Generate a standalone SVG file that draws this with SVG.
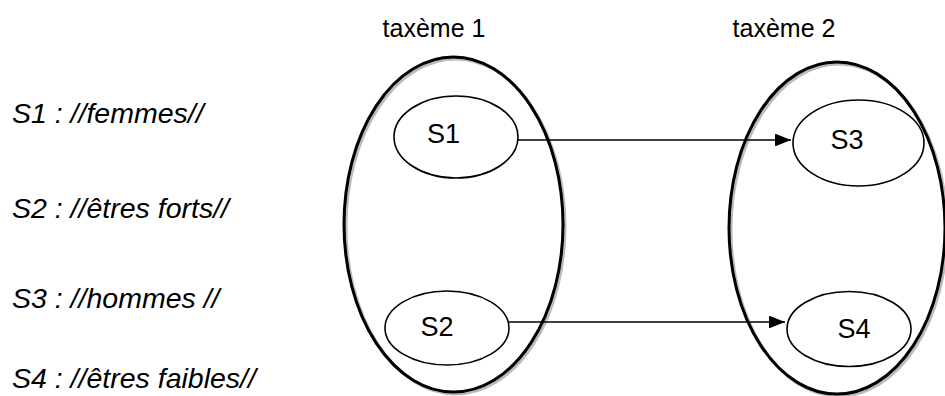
<svg xmlns="http://www.w3.org/2000/svg" width="945" height="396" viewBox="0 0 945 396">
<style>
.big{fill:none;stroke:#000;stroke-width:3}
.shadow{fill:none;stroke:#bbb;stroke-width:3}
.small{fill:#fff;stroke:#000;stroke-width:1.6}
.lbl{font-family:"Liberation Sans",Arial,sans-serif;font-size:25px;fill:#000}
.nl{font-family:"Liberation Sans",Arial,sans-serif;font-size:27px;fill:#000}
.leg{font-family:"Liberation Sans",Arial,sans-serif;font-size:28.5px;font-style:italic;fill:#000}
.conn{stroke:#000;stroke-width:1.6;fill:none}
</style>
<defs>
<marker id="ah" markerWidth="10" markerHeight="8" refX="10" refY="4" orient="auto" markerUnits="strokeWidth">
<path d="M0,0 L10,4 L0,8 Z" fill="#000"/>
</marker>
</defs>
<rect width="945" height="396" fill="#fff"/>
<g id="legend">
<text class="leg" x="12" y="123">S1 : //femmes//</text>
<text class="leg" x="12" y="218">S2 : //êtres forts//</text>
<text class="leg" x="12" y="308">S3 : //hommes //</text>
<text class="leg" x="12" y="388">S4 : //êtres faibles//</text>
</g>
<g id="taxeme1">
<ellipse class="shadow" cx="455.5" cy="226.5" rx="109.5" ry="167.5"/>
<ellipse class="big" cx="453.5" cy="224.5" rx="109.5" ry="167.5"/>
<text class="lbl" x="434" y="37" text-anchor="middle">taxème 1</text>
</g>
<g id="taxeme2">
<ellipse class="shadow" cx="839" cy="230" rx="108" ry="166"/>
<ellipse class="big" cx="837" cy="228" rx="108" ry="166"/>
<text class="lbl" x="784" y="37" text-anchor="middle">taxème 2</text>
</g>
<g id="connectors">
<line class="conn" x1="518" y1="140" x2="791" y2="140" marker-end="url(#ah)"/>
<line class="conn" x1="509" y1="322" x2="785" y2="322" marker-end="url(#ah)"/>
</g>
<g id="S1">
<ellipse class="small" cx="456" cy="137" rx="62" ry="41"/>
<text class="nl" x="443.5" y="143" text-anchor="middle">S1</text>
</g>
<g id="S2">
<ellipse class="small" cx="447" cy="328" rx="62" ry="37"/>
<text class="nl" x="437" y="336" text-anchor="middle">S2</text>
</g>
<g id="S3">
<ellipse class="small" cx="858.5" cy="143" rx="65.5" ry="43"/>
<text class="nl" x="847" y="149" text-anchor="middle">S3</text>
</g>
<g id="S4">
<ellipse class="small" cx="849" cy="329" rx="62" ry="37.5"/>
<text class="nl" x="854" y="338" text-anchor="middle">S4</text>
</g>
</svg>
